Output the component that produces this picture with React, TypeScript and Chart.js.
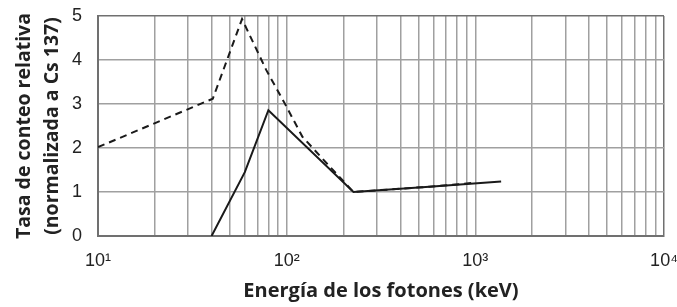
import { useEffect, useRef } from "react";
import { Chart, registerables } from "chart.js";

Chart.register(...registerables);

// Data
const solidEnergy = [40, 60, 80, 226, 570, 1370];
const solidRate = [0, 1.45, 2.86, 1.0, 1.12, 1.24];

const dashedEnergy = [10, 40.6, 58, 78, 97.5, 121, 169, 226, 570, 1000];
const dashedRate = [2.02, 3.12, 4.93, 3.77, 3.02, 2.26, 1.58, 1.0, 1.12, 1.21];

const yTicks = [0, 1, 2, 3, 4, 5];
const xMajor = [10, 100, 1000, 10000];
const xTickLabels = ["10¹", "10²", "10³", "10⁴"];

const yTitle = ["Tasa de conteo relativa", "(normalizada a Cs 137)"];
const xTitle = "Energía de los fotones (keV)";

const W = 677;
const H = 307;

export default function App() {
  const ref = useRef<HTMLCanvasElement | null>(null);

  useEffect(() => {
    document.body.style.margin = "0";
    const canvas = ref.current;
    if (!canvas) return;

    // grid positions: 1..9 x each decade, plus the last major
    const gridValues: number[] = [];
    for (let d = 0; d < xMajor.length - 1; d++) {
      for (let m = 1; m <= 9; m++) gridValues.push(xMajor[d] * m);
    }
    gridValues.push(xMajor[xMajor.length - 1]);

    const gridLight = "#a0a0a0";
    const gridDark = "#707070";
    const tickFont = { family: "'Liberation Sans Narrow', 'Liberation Sans', Arial, sans-serif", size: 18 };
    const titleFont = { family: "'Open Sans', 'DejaVu Sans', sans-serif", size: 20, weight: "bold" as const };

    const chart = new Chart(canvas, {
      type: "line",
      data: {
        datasets: [
          {
            data: dashedEnergy.map((x, i) => ({ x, y: dashedRate[i] })),
            borderColor: "#1a1a1a",
            borderWidth: 2,
            borderDash: [7, 5],
            pointRadius: 0,
            tension: 0,
          },
          {
            data: solidEnergy.map((x, i) => ({ x, y: solidRate[i] })),
            borderColor: "#1a1a1a",
            borderWidth: 2,
            pointRadius: 0,
            tension: 0,
          },
        ],
      },
      options: {
        responsive: false,
        animation: false,
        events: [],
        layout: { padding: { top: 16, right: 13, left: 0, bottom: 0 } },
        plugins: { legend: { display: false }, tooltip: { enabled: false } },
        scales: {
          x: {
            type: "logarithmic",
            min: xMajor[0],
            max: xMajor[xMajor.length - 1],
            afterBuildTicks: (scale: any) => {
              scale.ticks = gridValues.map((v) => ({ value: v }));
            },
            afterFit: (scale: any) => {
              scale.height = 71;
              scale.paddingLeft = 0;
              scale.paddingRight = 0;
            },
            ticks: {
              autoSkip: false,
              maxRotation: 0,
              minRotation: 0,
              padding: 14,
              color: "#222",
              font: tickFont,
              callback: (value: any) => {
                const idx = xMajor.indexOf(Number(value));
                return idx >= 0 ? xTickLabels[idx] : "";
              },
            },
            grid: {
              drawTicks: false,
              lineWidth: 1.5,
              color: (ctx: any) =>
                ctx.tick && ctx.tick.value === xMajor[xMajor.length - 1] ? gridDark : gridLight,
            },
            border: { display: true, color: gridDark, width: 2 },
            title: {
              display: true,
              text: xTitle,
              color: "#222",
              font: titleFont,
              padding: { top: 0, bottom: 4 },
            },
          },
          y: {
            type: "linear",
            min: yTicks[0],
            max: yTicks[yTicks.length - 1],
            afterBuildTicks: (scale: any) => {
              scale.ticks = yTicks.map((v) => ({ value: v }));
            },
            afterFit: (scale: any) => {
              scale.width = 98;
              scale.paddingTop = 0;
              scale.paddingBottom = 0;
            },
            ticks: {
              padding: 16,
              color: "#222",
              font: tickFont,
              callback: (value: any) => String(value),
            },
            grid: {
              drawTicks: false,
              lineWidth: 1.5,
              color: (ctx: any) =>
                ctx.tick && ctx.tick.value === yTicks[yTicks.length - 1] ? gridDark : gridLight,
            },
            border: { display: true, color: gridDark, width: 2 },
            title: {
              display: true,
              text: yTitle,
              color: "#222",
              font: { ...titleFont, size: 19.5, lineHeight: 1.42 },
              padding: { top: 11, bottom: 0 },
            },
          },
        },
      },
    });

    return () => chart.destroy();
  }, []);

  return (
    <div style={{ width: W, height: H, overflow: "hidden", background: "#fff" }}>
      <canvas ref={ref} width={W} height={H} style={{ display: "block" }} />
    </div>
  );
}
